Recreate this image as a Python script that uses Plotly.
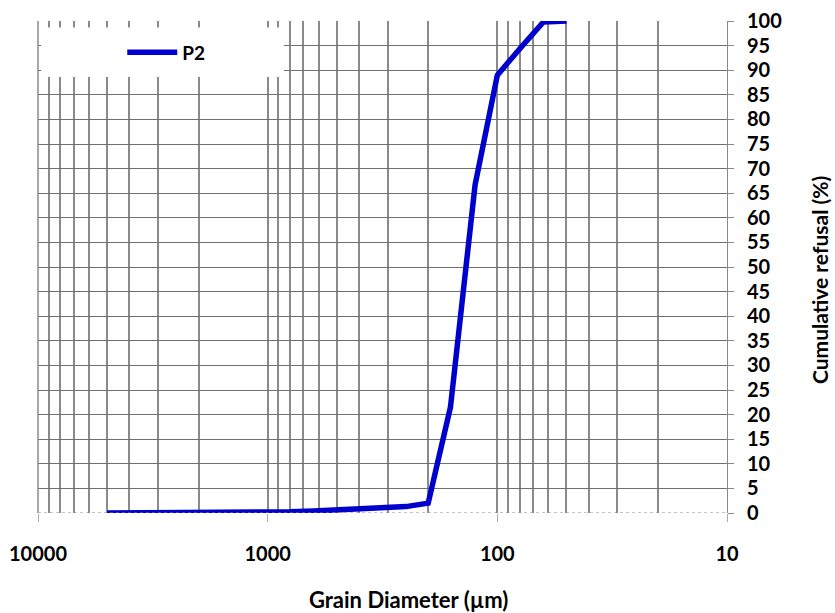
import plotly.graph_objects as go

# Data
diameter_um = [5000, 2500, 1250, 1000, 800, 630, 500, 400, 315, 250, 200, 160, 125, 100, 80, 63, 50]
cumulative_refusal = [0, 0, 0.05, 0.1, 0.25, 0.4, 0.6, 0.8, 0.95, 1.3, 2.0, 21.5, 66.7, 89.0, 94.3, 99.8, 100]
series_name = "P2"
x_title = "Grain Diameter (µm)"
y_title = "Cumulative refusal (%)"

x_major = [10000, 1000, 100, 10]
x_major_text = ["10000", "1000", "100", "10"]
x_minor = [m * 10 ** e for e in (1, 2, 3) for m in range(2, 10)]
y_ticks = list(range(0, 101, 5))

FONT = "Lato"
GRID_V = "#8a8a8a"
GRID_H = "#707070"

fig = go.Figure()
fig.add_trace(go.Scatter(
    x=diameter_um, y=cumulative_refusal, mode="lines", name=series_name,
    line=dict(color="#0000CC", width=5.5),
))

fig.update_layout(
    width=835, height=613,
    margin=dict(l=38, r=108, t=21, b=100, autoexpand=False),
    paper_bgcolor="white", plot_bgcolor="white",
    font=dict(family=FONT, color="black"),
    showlegend=True,
    legend=dict(
        x=0.1223, y=0.975, xanchor="left", yanchor="top",
        bgcolor="rgba(0,0,0,0)", borderwidth=0,
        font=dict(family=FONT, size=19, color="black", weight="bold"),
        itemwidth=50,
    ),
    shapes=[
        dict(type="rect", xref="paper", yref="paper", x0=0.0045, x1=0.357, y0=0.886, y1=0.987,
             fillcolor="white", line=dict(width=0), layer="above"),
        dict(type="line", xref="paper", yref="paper", x0=0, x1=0, y0=0, y1=1,
             line=dict(color="#8a8a8a", width=1.5), layer="above"),
        dict(type="line", xref="paper", yref="y", x0=0, x1=1, y0=0, y1=0,
             line=dict(color="#8a8a8a", width=1, dash="dot"), layer="above"),
    ],
    annotations=[
        dict(text=x_title, xref="paper", yref="paper", x=0.538, y=-0.1768,
             xanchor="center", yanchor="middle", showarrow=False,
             font=dict(family=FONT, size=22, color="black", weight="bold")),
        dict(text=y_title, xref="paper", yref="paper", x=1.135, y=0.4736, textangle=-90,
             xanchor="center", yanchor="middle", showarrow=False,
             font=dict(family=FONT, size=21, color="black", weight="bold")),
    ],
)

fig.update_xaxes(
    type="log", range=[4, 1], automargin=False,
    tickmode="array", tickvals=x_major, ticktext=x_major_text,
    showgrid=True, gridcolor=GRID_V, gridwidth=2,
    minor=dict(tickmode="array", tickvals=x_minor, showgrid=True, gridcolor=GRID_V, gridwidth=2, ticks=""),
    ticks="outside", ticklen=8, tickcolor="#aaaaaa", tickwidth=1,
    zeroline=False, showline=False,
    tickfont=dict(family=FONT, size=20, color="black", weight="bold"),
    ticklabelstandoff=15,
)

fig.update_yaxes(
    side="right", range=[0, 100], automargin=False,
    tickmode="array", tickvals=y_ticks,
    showgrid=True, gridcolor=GRID_H, gridwidth=1.3,
    ticks="outside", ticklen=6, tickcolor="#888888", tickwidth=1,
    showline=True, linecolor="#888888", linewidth=1,
    zeroline=False,
    tickfont=dict(family=FONT, size=20, color="black", weight="bold"),
    ticklabelstandoff=9,
)

fig.write_html("out.html")
